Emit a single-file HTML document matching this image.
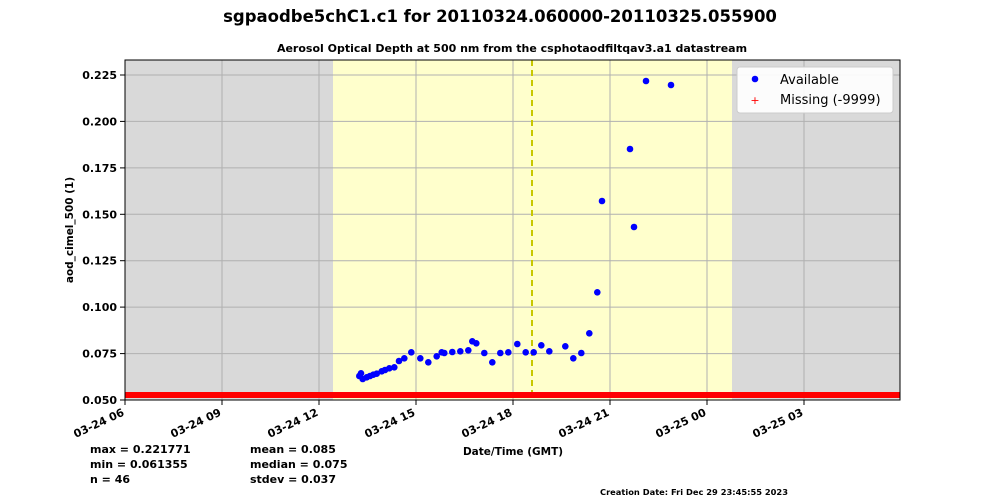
<!DOCTYPE html>
<html><head><style>body{margin:0;background:#fff}svg{display:block}text{font-family:"DejaVu Sans","Liberation Sans",sans-serif}</style></head><body>
<svg width="1000" height="500" xmlns="http://www.w3.org/2000/svg">
<text x="500" y="22" text-anchor="middle" font-size="16.5" font-weight="bold">sgpaodbe5chC1.c1 for 20110324.060000-20110325.055900</text>
<text x="512" y="52" text-anchor="middle" font-size="11" font-weight="bold">Aerosol Optical Depth at 500 nm from the csphotaodfiltqav3.a1 datastream</text>
<rect x="125" y="60" width="775" height="340" fill="#d9d9d9"/>
<rect x="333" y="60" width="399" height="340" fill="#ffffcc"/>
<g stroke="#b0b0b0" stroke-width="1">
<line x1="222" y1="60" x2="222" y2="400"/><line x1="319" y1="60" x2="319" y2="400"/><line x1="416" y1="60" x2="416" y2="400"/><line x1="513" y1="60" x2="513" y2="400"/><line x1="610" y1="60" x2="610" y2="400"/><line x1="707" y1="60" x2="707" y2="400"/><line x1="804" y1="60" x2="804" y2="400"/>
<line x1="125" y1="75" x2="900" y2="75"/><line x1="125" y1="121.4" x2="900" y2="121.4"/><line x1="125" y1="167.9" x2="900" y2="167.9"/><line x1="125" y1="214.3" x2="900" y2="214.3"/><line x1="125" y1="260.7" x2="900" y2="260.7"/><line x1="125" y1="307.1" x2="900" y2="307.1"/><line x1="125" y1="353.6" x2="900" y2="353.6"/>
</g>
<line x1="532" y1="60" x2="532" y2="400" stroke="#c8c800" stroke-width="2" stroke-dasharray="6,4"/>
<rect x="125" y="392" width="775" height="6" fill="#ff0000"/>
<g fill="#0000ff">
<circle cx="359.3" cy="376" r="3.3"/><circle cx="361" cy="373.3" r="3.3"/><circle cx="362.7" cy="379" r="3.3"/><circle cx="366.7" cy="377.3" r="3.3"/><circle cx="370" cy="376" r="3.3"/><circle cx="373.3" cy="374.7" r="3.3"/><circle cx="376.7" cy="373.7" r="3.3"/><circle cx="381.7" cy="371.3" r="3.3"/><circle cx="385" cy="370" r="3.3"/><circle cx="389.3" cy="368.3" r="3.3"/><circle cx="394.3" cy="367.3" r="3.3"/><circle cx="399" cy="361" r="3.3"/><circle cx="404.3" cy="358.3" r="3.3"/><circle cx="411.3" cy="352.3" r="3.3"/><circle cx="420.3" cy="358.3" r="3.3"/><circle cx="428.3" cy="362.3" r="3.3"/><circle cx="436.7" cy="356.3" r="3.3"/><circle cx="441.7" cy="352.3" r="3.3"/><circle cx="444.3" cy="353" r="3.3"/><circle cx="452.3" cy="352" r="3.3"/><circle cx="460.3" cy="351.3" r="3.3"/><circle cx="468.3" cy="350.3" r="3.3"/><circle cx="472.3" cy="341.3" r="3.3"/><circle cx="476.3" cy="343.3" r="3.3"/><circle cx="484.3" cy="353" r="3.3"/><circle cx="492.3" cy="362.3" r="3.3"/><circle cx="500.3" cy="353" r="3.3"/><circle cx="508.3" cy="352.3" r="3.3"/><circle cx="517.3" cy="344" r="3.3"/><circle cx="525.7" cy="352.3" r="3.3"/><circle cx="533.7" cy="352.3" r="3.3"/><circle cx="541.3" cy="345.3" r="3.3"/><circle cx="549.3" cy="351.3" r="3.3"/><circle cx="565.3" cy="346.3" r="3.3"/><circle cx="573.3" cy="358.3" r="3.3"/><circle cx="581.3" cy="353" r="3.3"/><circle cx="589.3" cy="333.3" r="3.3"/><circle cx="597.3" cy="292.3" r="3.3"/><circle cx="602" cy="201" r="3.3"/><circle cx="630" cy="149" r="3.3"/><circle cx="634" cy="227" r="3.3"/><circle cx="646" cy="81" r="3.3"/><circle cx="671" cy="85" r="3.3"/>
</g>
<rect x="125" y="60" width="775" height="340" fill="none" stroke="#000" stroke-width="1"/>
<g stroke="#000"><line x1="120" y1="75" x2="125" y2="75"/><line x1="120" y1="121.4" x2="125" y2="121.4"/><line x1="120" y1="167.9" x2="125" y2="167.9"/><line x1="120" y1="214.3" x2="125" y2="214.3"/><line x1="120" y1="260.7" x2="125" y2="260.7"/><line x1="120" y1="307.1" x2="125" y2="307.1"/><line x1="120" y1="353.6" x2="125" y2="353.6"/><line x1="120" y1="400" x2="125" y2="400"/>
<line x1="125" y1="400" x2="125" y2="405"/><line x1="222" y1="400" x2="222" y2="405"/><line x1="319" y1="400" x2="319" y2="405"/><line x1="416" y1="400" x2="416" y2="405"/><line x1="513" y1="400" x2="513" y2="405"/><line x1="610" y1="400" x2="610" y2="405"/><line x1="707" y1="400" x2="707" y2="405"/><line x1="804" y1="400" x2="804" y2="405"/></g>
<g font-size="11" font-weight="bold" text-anchor="end">
<text x="117" y="79">0.225</text><text x="117" y="125.4">0.200</text><text x="117" y="171.9">0.175</text><text x="117" y="218.3">0.150</text><text x="117" y="264.7">0.125</text><text x="117" y="311.1">0.100</text><text x="117" y="357.6">0.075</text><text x="117" y="404">0.050</text>
<text transform="translate(125,415) rotate(-25)">03-24 06</text><text transform="translate(222,415) rotate(-25)">03-24 09</text><text transform="translate(319,415) rotate(-25)">03-24 12</text><text transform="translate(416,415) rotate(-25)">03-24 15</text><text transform="translate(513,415) rotate(-25)">03-24 18</text><text transform="translate(610,415) rotate(-25)">03-24 21</text><text transform="translate(707,415) rotate(-25)">03-25 00</text><text transform="translate(804,415) rotate(-25)">03-25 03</text>
</g>
<text transform="translate(73,230) rotate(-90)" text-anchor="middle" font-size="10.5" font-weight="bold">aod_cimel_500 (1)</text>
<text x="513" y="455" text-anchor="middle" font-size="10.5" font-weight="bold">Date/Time (GMT)</text>
<g font-size="11" font-weight="bold">
<text x="90" y="453">max = 0.221771</text><text x="90" y="468">min = 0.061355</text><text x="90" y="483">n = 46</text>
<text x="250" y="453">mean = 0.085</text><text x="250" y="468">median = 0.075</text><text x="250" y="483">stdev = 0.037</text>
</g>
<text x="600" y="495" font-size="8.3" font-weight="bold">Creation Date: Fri Dec 29 23:45:55 2023</text>
<rect x="737" y="67" width="156" height="46" rx="3" fill="#fff" fill-opacity="0.9" stroke="#ccc"/>
<circle cx="755" cy="79" r="3.3" fill="#0000ff"/>
<text x="780" y="84" font-size="13">Available</text>
<text x="755" y="104" font-size="11" fill="#ff0000" text-anchor="middle">+</text>
<text x="780" y="104" font-size="13">Missing (-9999)</text>
</svg>
</body></html>
